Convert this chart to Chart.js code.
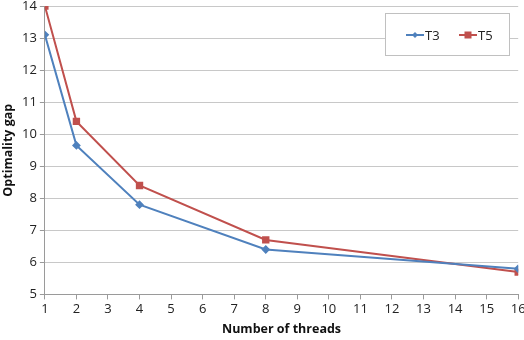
<!DOCTYPE html>
<html>
<head>
<meta charset="utf-8">
<script src="https://cdn.jsdelivr.net/npm/chart.js@4"></script>
<style>
  html, body { margin: 0; padding: 0; background: #fff; }
  #wrap { width: 524px; height: 340px; }
</style>
</head>
<body>
<div id="wrap"><canvas id="c" width="524" height="340"></canvas></div>
<script>
const threads = [1, 2, 4, 8, 16]
const t3 = [13.1, 9.65, 7.8, 6.4, 5.8]
const t5 = [14, 10.4, 8.4, 6.7, 5.7]
const seriesNames = ['T3', 'T5']

const blue = '#4F81BD'
const red = '#C0504D'
const font = 'Open Sans'

function pts(ys){ return threads.map((x, i) => ({x: x, y: ys[i]})) }

// legend box drawn inside the plot, like the original
const boxLegend = {
  id: 'boxLegend',
  afterDraw(chart){
    const ctx = chart.ctx
    ctx.save()
    ctx.fillStyle = '#fff'
    ctx.fillRect(385, 13, 124, 42)
    ctx.strokeStyle = '#c0c0c0'
    ctx.lineWidth = 1
    ctx.strokeRect(385.5, 13.5, 124, 42)
    const items = [
      {x: 406, color: blue, style: 'diamond'},
      {x: 459, color: red, style: 'square'}
    ]
    ctx.font = '13px "' + font + '"'
    ctx.textBaseline = 'middle'
    items.forEach((it, i) => {
      const y = 35
      ctx.strokeStyle = it.color
      ctx.lineWidth = 2
      ctx.beginPath(); ctx.moveTo(it.x, y); ctx.lineTo(it.x + 18, y); ctx.stroke()
      ctx.fillStyle = it.color
      const cx = it.x + 9
      if(it.style === 'square'){
        ctx.fillRect(cx - 3.5, y - 3.5, 7, 7)
      } else {
        ctx.beginPath()
        ctx.moveTo(cx, y - 3); ctx.lineTo(cx + 3, y); ctx.lineTo(cx, y + 3); ctx.lineTo(cx - 3, y)
        ctx.closePath(); ctx.fill()
      }
      ctx.fillStyle = '#222'
      ctx.fillText(chart.data.datasets[i].label, it.x + 19, y + 1)
    })
    ctx.restore()
  }
}

new Chart(document.getElementById('c'), {
  type: 'line',
  data: {
    datasets: [
      {
        label: seriesNames[0], data: pts(t3),
        borderColor: blue, backgroundColor: blue, borderWidth: 2,
        pointStyle: 'rectRot', pointRadius: 3, pointHoverRadius: 3, tension: 0
      },
      {
        label: seriesNames[1], data: pts(t5),
        borderColor: red, backgroundColor: red, borderWidth: 2,
        pointStyle: 'rect', pointRadius: 3.8, pointHoverRadius: 3.8, tension: 0
      }
    ]
  },
  options: {
    responsive: false,
    animation: false,
    layout: { padding: { top: 0, right: 0, left: 1, bottom: 3 } },
    plugins: { legend: { display: false }, tooltip: { enabled: false } },
    scales: {
      x: {
        type: 'linear', min: 1, max: 16,
        ticks: { stepSize: 1, color: '#222', font: { family: font, size: 13 }, padding: 2, maxRotation: 0 },
        grid: { drawOnChartArea: false, drawTicks: true, tickLength: 5, color: '#9a9a9a' },
        border: { color: '#9a9a9a' },
        title: { display: true, text: 'Number of threads', color: '#111', font: { family: font, size: 12.5, weight: 'bold' }, padding: { top: 3, bottom: 0 } },
        afterFit(s){ s.paddingRight = 0; s.paddingLeft = 0 }
      },
      y: {
        min: 5, max: 14,
        ticks: { stepSize: 1, color: '#222', font: { family: font, size: 13 }, padding: 3 },
        grid: { color: '#c8c8c8', tickLength: 5, tickColor: '#9a9a9a' },
        border: { color: '#9a9a9a' },
        title: { display: true, text: 'Optimality gap', color: '#111', font: { family: font, size: 12.5, weight: 'bold' }, padding: { top: 0, bottom: 3 } },
        afterFit(s){ s.paddingTop = 6 }
      }
    }
  },
  plugins: [boxLegend]
})
</script>
</body>
</html>
